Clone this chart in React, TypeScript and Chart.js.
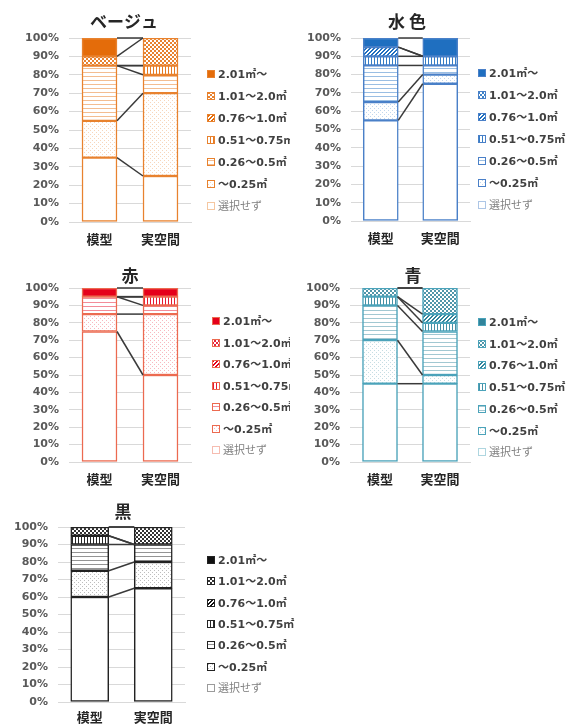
import React, { useEffect, useRef } from 'react';
import { Chart, registerables } from 'chart.js';
Chart.register(...registerables);

// ---- data ----
const categories = ['模型', '実空間'];
// series order: bottom -> top of the stack
const seriesLabels = ['選択せず', '～0.25㎡', '0.26～0.5㎡', '0.51～0.75㎡', '0.76～1.0㎡', '1.01～2.0㎡', '2.01㎡～'];
const yTickLabels = ['0%', '10%', '20%', '30%', '40%', '50%', '60%', '70%', '80%', '90%', '100%'];

const beigeModel = [35, 20, 30, 0, 0, 5, 10];
const beigeReal = [25, 45, 10, 5, 0, 15, 0];
const mizuModel = [55, 10, 20, 5, 5, 0, 5];
const mizuReal = [75, 5, 5, 5, 0, 0, 10];
const akaModel = [75, 10, 10, 0, 0, 0, 5];
const akaReal = [50, 35, 5, 5, 0, 0, 5];
const aoModel = [45, 25, 20, 5, 0, 5, 0];
const aoReal = [45, 5, 25, 5, 5, 15, 0];
const kuroModel = [60, 15, 15, 5, 0, 5, 0];
const kuroReal = [65, 15, 10, 0, 0, 10, 0];

const patternKinds = ['blank', 'dots', 'hlines', 'vlines', 'diag', 'checker', 'solid'];

type Panel = {
  title: string;
  model: number[];
  real: number[];
  color: string;
  border: string;
  left: number; top: number; width: number; height: number;
  pl: number; pr: number; pt: number; pb: number;
  titleX: number; titleY: number;
  legendX: number; legendY: number; legendStep: number;
  barW: number;
  xPad: number;
};

const panels: Panel[] = [
  { title: 'ベージュ', model: beigeModel, real: beigeReal, color: '#E46C0A', border: '#E8822E',
    left: 0, top: 0, width: 290, height: 255, pl: 69, pr: 191, pt: 38, pb: 222,
    titleX: 124, titleY: 22, legendX: 207, legendY: 74, legendStep: 22, barW: 35, xPad: 9 },
  { title: '水 色', model: mizuModel, real: mizuReal, color: '#1F6FC0', border: '#4A80C8',
    left: 290, top: 0, width: 291, height: 255, pl: 61, pr: 180, pt: 38, pb: 221,
    titleX: 117, titleY: 22, legendX: 188, legendY: 73, legendStep: 22, barW: 35, xPad: 9 },
  { title: '赤', model: akaModel, real: akaReal, color: '#E5001A', border: '#EC6A50',
    left: 0, top: 250, width: 290, height: 245, pl: 69, pr: 191, pt: 38, pb: 212,
    titleX: 130, titleY: 26, legendX: 212, legendY: 71, legendStep: 21.5, barW: 35, xPad: 9 },
  { title: '青', model: aoModel, real: aoReal, color: '#31849B', border: '#4BA3BA',
    left: 290, top: 250, width: 291, height: 245, pl: 60, pr: 180, pt: 38, pb: 212,
    titleX: 123, titleY: 26, legendX: 188, legendY: 72, legendStep: 21.7, barW: 35, xPad: 9 },
  { title: '黒', model: kuroModel, real: kuroReal, color: '#111111', border: '#222222',
    left: 0, top: 480, width: 300, height: 244, pl: 58, pr: 185, pt: 47, pb: 222,
    titleX: 123, titleY: 32, legendX: 207, legendY: 80, legendStep: 21.3, barW: 38, xPad: 7 },
];

function makeFill(ctx: CanvasRenderingContext2D, kind: string, color: string): any {
  if (kind === 'blank') return '#ffffff';
  if (kind === 'solid') return color;
  const s = kind === 'vlines' ? 3 : 4;
  const c = document.createElement('canvas');
  c.width = s; c.height = s;
  const g = c.getContext('2d')!;
  g.fillStyle = '#ffffff';
  g.fillRect(0, 0, s, s);
  g.fillStyle = color;
  if (kind === 'dots') {
    g.globalAlpha = 0.28;
    g.fillRect(0, 0, 1, 1);
    g.fillRect(2, 2, 1, 1);
  } else if (kind === 'hlines') {
    g.globalAlpha = 0.45;
    g.fillRect(0, 0, s, 1);
  } else if (kind === 'vlines') {
    g.globalAlpha = 0.9;
    g.fillRect(0, 0, 1, s);
  } else if (kind === 'diag') {
    for (let y = 0; y < s; y++) for (let x = 0; x < s; x++) {
      const k = (x + y) % s;
      if (k === 3 || k === 0) g.fillRect(x, y, 1, 1);
    }
  } else if (kind === 'checker') {
    g.globalAlpha = 0.85;
    g.fillRect(0, 0, 2, 2);
    g.fillRect(2, 2, 2, 2);
  }
  return ctx.createPattern(c, 'repeat');
}

function PanelChart({ p }: { p: Panel }) {
  const ref = useRef<HTMLCanvasElement>(null);
  useEffect(() => {
    const canvas = ref.current!;
    const ctx = canvas.getContext('2d')!;
    const fills = patternKinds.map((k) => makeFill(ctx, k, p.color));
    const datasets = seriesLabels.map((lab, i) => ({
      label: lab,
      data: [p.model[i] || null, p.real[i] || null],
      backgroundColor: fills[i],
      borderColor: p.border,
      borderWidth: 1.5,
      borderSkipped: false as any,
      barThickness: p.barW,
    }));
    const overlay = {
      id: 'overlay' + p.title,
      afterDatasetsDraw(chart: any) {
        const ys = chart.scales.y;
        const xs = chart.scales.x;
        const c = chart.ctx as CanvasRenderingContext2D;
        const half = p.barW / 2;
        const x1 = xs.getPixelForValue(0) + half;
        const x2 = xs.getPixelForValue(1) - half;
        let cm = 0;
        let cr = 0;
        c.save();
        c.strokeStyle = '#3a3a3a';
        c.lineWidth = 1.5;
        for (let i = 0; i < seriesLabels.length; i++) {
          cm += p.model[i];
          cr += p.real[i];
          c.beginPath();
          c.moveTo(x1, ys.getPixelForValue(cm));
          c.lineTo(x2, ys.getPixelForValue(cr));
          c.stroke();
        }
        c.restore();
      },
      afterDraw(chart: any) {
        const c = chart.ctx as CanvasRenderingContext2D;
        c.save();
        c.font = 'bold 17px "Noto Sans CJK JP"';
        c.fillStyle = '#262626';
        c.textAlign = 'center';
        c.textBaseline = 'middle';
        c.fillText(p.title, p.titleX, p.titleY);
        c.textAlign = 'left';
        for (let j = 0; j < seriesLabels.length; j++) {
          const i = seriesLabels.length - 1 - j;
          const yc = Math.round(p.legendY + j * p.legendStep);
          c.fillStyle = fills[i];
          c.fillRect(p.legendX, yc - 4, 8, 8);
          c.globalAlpha = i === 0 ? 0.45 : 1;
          c.strokeStyle = p.border;
          c.lineWidth = 1;
          c.strokeRect(p.legendX + 0.5, yc - 3.5, 7, 7);
          c.globalAlpha = 1;
          c.fillStyle = i === 0 ? '#7f7f7f' : '#404040';
          c.font = (i === 0 ? '' : 'bold ') + '11px "DejaVu Sans", "Noto Sans CJK JP"';
          c.fillText(seriesLabels[i], p.legendX + 11, yc + 1);
        }
        c.restore();
      },
    };
    const chart = new Chart(canvas, {
      type: 'bar',
      data: { labels: categories, datasets },
      options: {
        responsive: false,
        animation: false,
        layout: { padding: { top: p.pt, right: p.width - p.pr, left: 0, bottom: 0 } },
        plugins: { legend: { display: false }, tooltip: { enabled: false }, title: { display: false } },
        scales: {
          x: {
            stacked: true,
            afterFit: (s: any) => { s.height = p.height - p.pb; },
            grid: { display: false, drawTicks: false },
            border: { display: true, color: '#d9d9d9', width: 1 },
            ticks: { padding: p.xPad, color: '#262626', font: { family: '"Noto Sans CJK JP"', size: 13, weight: 'bold' } },
          },
          y: {
            stacked: true,
            min: 0,
            max: 100,
            afterFit: (s: any) => { s.width = p.pl; },
            grid: { color: '#d9d9d9', lineWidth: 1, drawTicks: false },
            border: { display: false },
            ticks: {
              stepSize: 10,
              padding: 10,
              color: '#595959',
              font: { family: '"DejaVu Sans"', size: 11, weight: 'bold' },
              callback: (v: any) => yTickLabels[Math.round(Number(v) / 10)],
            },
          },
        },
      },
      plugins: [overlay],
    } as any);
    return () => chart.destroy();
  }, [p]);
  return (
    <canvas
      ref={ref}
      width={p.width}
      height={p.height}
      style={{ position: 'absolute', left: p.left, top: p.top, width: p.width, height: p.height }}
    />
  );
}

export default function App() {
  return (
    <div style={{ position: 'absolute', left: 0, top: 0, width: 581, height: 724, background: '#ffffff' }}>
      {panels.map((p) => (
        <PanelChart key={p.title} p={p} />
      ))}
    </div>
  );
}
